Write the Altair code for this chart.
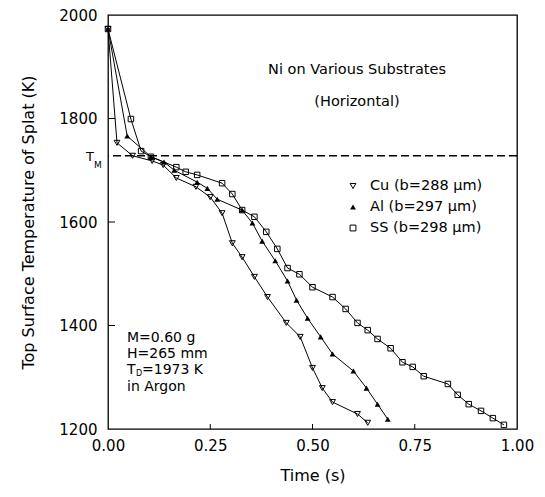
import altair as alt
import pandas as pd

# ---- data ----
cu_t = [0.0, 0.022, 0.06, 0.108, 0.135, 0.167, 0.215, 0.25, 0.279, 0.304, 0.328, 0.358, 0.39,
        0.436, 0.47, 0.5, 0.524, 0.549, 0.61, 0.635]
cu_T = [1973, 1753, 1728, 1718, 1710, 1685, 1668, 1648, 1617, 1559, 1532, 1494, 1455,
        1405, 1378, 1318, 1279, 1252, 1229, 1212]

al_t = [0.0, 0.047, 0.105, 0.137, 0.162, 0.218, 0.243, 0.267, 0.328, 0.353, 0.377, 0.409,
        0.439, 0.461, 0.488, 0.52, 0.549, 0.6, 0.632, 0.659, 0.684]
al_T = [1973, 1766, 1726, 1716, 1700, 1677, 1665, 1644, 1623, 1598, 1563, 1525,
        1486, 1449, 1414, 1378, 1345, 1312, 1279, 1248, 1219]

ss_t = [0.0, 0.056, 0.081, 0.105, 0.167, 0.19, 0.218, 0.279, 0.304, 0.328, 0.358, 0.387,
        0.414, 0.439, 0.468, 0.5, 0.549, 0.581, 0.61, 0.635, 0.659, 0.691, 0.72, 0.745,
        0.772, 0.831, 0.855, 0.882, 0.912, 0.941, 0.968]
ss_T = [1973, 1799, 1737, 1726, 1706, 1697, 1691, 1675, 1654, 1623, 1610, 1581,
        1548, 1511, 1499, 1474, 1455, 1432, 1405, 1391, 1374, 1356, 1329, 1320,
        1302, 1287, 1266, 1248, 1235, 1221, 1208]

T_M = 1728
x_ticks = [0.0, 0.25, 0.5, 0.75, 1.0]
y_ticks = [1200, 1400, 1600, 1800, 2000]
legend_labels = ["Cu (b=288 \u03bcm)", "Al (b=297 \u03bcm)", "SS (b=298 \u03bcm)"]
info_lines = ["M=0.60 g", "H=265 mm"]

W, H = 409, 414
FONT = "DejaVu Sans"

cu = pd.DataFrame({"t": cu_t, "T": cu_T, "s": "Cu"})
al = pd.DataFrame({"t": al_t, "T": al_T, "s": "Al"})
ss = pd.DataFrame({"t": ss_t, "T": ss_T, "s": "SS"})
df = pd.concat([cu, al, ss], ignore_index=True)

xs = alt.Scale(domain=[0, 1], nice=False)
ys = alt.Scale(domain=[1200, 2000], nice=False)

X = alt.X("t:Q", scale=xs, title="Time (s)",
          axis=alt.Axis(values=x_ticks, format=".2f", ticks=False, grid=False, domain=False,
                        labelFlush=False, labelFontSize=15, labelFont=FONT, titleFont=FONT,
                        titleFontSize=16, titleFontWeight="normal", labelColor="black",
                        titleColor="black", labelPadding=9, titlePadding=14))
Y = alt.Y("T:Q", scale=ys, title="Top Surface Temperature of Splat (K)",
          axis=alt.Axis(values=y_ticks, format="d", ticks=False, grid=False, domain=False,
                        labelFlush=False, labelFontSize=15, labelFont=FONT, titleFont=FONT,
                        titleFontSize=16, titleFontWeight="normal", labelColor="black",
                        titleColor="black", labelPadding=11, titlePadding=22))

lines = alt.Chart(df).mark_line(color="black", strokeWidth=1).encode(x=X, y=Y, detail="s:N")

pts_cu = alt.Chart(cu).mark_point(shape="triangle-down", filled=False, color="black",
                                  size=34, strokeWidth=1, opacity=1).encode(x="t:Q", y="T:Q")
pts_al = alt.Chart(al).mark_point(shape="triangle-up", filled=True, color="black",
                                  size=34, opacity=1).encode(x="t:Q", y="T:Q")
pts_ss = alt.Chart(ss).mark_point(shape="square", filled=False, color="black",
                                  size=30, strokeWidth=1, opacity=1).encode(x="t:Q", y="T:Q")

tm = alt.Chart(pd.DataFrame({"T": [T_M]})).mark_rule(
    color="black", strokeWidth=1.3, strokeDash=[8, 4]).encode(y="T:Q")

xt = alt.Chart(pd.DataFrame({"t": x_ticks[1:-1]})).mark_rule(color="black").encode(
    x="t:Q", y=alt.value(H), y2=alt.value(H - 5))
yt = alt.Chart(pd.DataFrame({"T": y_ticks[1:-1]})).mark_rule(color="black").encode(
    y="T:Q", x=alt.value(0), x2=alt.value(7))

def txt(s, x, y, size=14, align="left", baseline="middle"):
    return alt.Chart(pd.DataFrame({"v": [s]})).mark_text(
        font=FONT, fontSize=size, align=align, baseline=baseline, color="black").encode(
        text="v:N", x=alt.value(x), y=alt.value(y))

title1 = txt("Ni on Various Substrates", 249, 55, 14.5, "center")
title2 = txt("(Horizontal)", 249, 87, 14.5, "center")

tmT = txt("T", -22, 142, 13)
tmM = txt("M", -14, 150, 9)

leg_rows = [171, 192, 213]
leg_x = 245
leg = []
shapes = [("triangle-down", False), ("triangle-up", True), ("square", False)]
for (shp, fil), yy, lab in zip(shapes, leg_rows, legend_labels):
    leg.append(alt.Chart(pd.DataFrame({"a": [0]})).mark_point(
        shape=shp, filled=fil, color="black", size=34, strokeWidth=1, opacity=1).encode(
        x=alt.value(leg_x), y=alt.value(yy)))
    leg.append(txt(lab, leg_x + 17, yy, 14.5))

info = [txt(info_lines[0], 19, 323), txt(info_lines[1], 19, 339),
        txt("T", 19, 355), txt("D", 28, 359, 8), txt("=1973 K", 34, 355),
        txt("in Argon", 19, 372)]

chart = alt.layer(lines, tm, xt, yt, pts_cu, pts_al, pts_ss, title1, title2, tmT, tmM,
                  *leg, *info).properties(
    width=W, height=H, autosize="none",
    padding={"left": 108, "top": 15, "right": 28, "bottom": 68},
    background="white",
).configure_view(stroke="black", strokeWidth=1.3)

chart.save("out.html", embed_options={"renderer": "svg", "actions": False})
